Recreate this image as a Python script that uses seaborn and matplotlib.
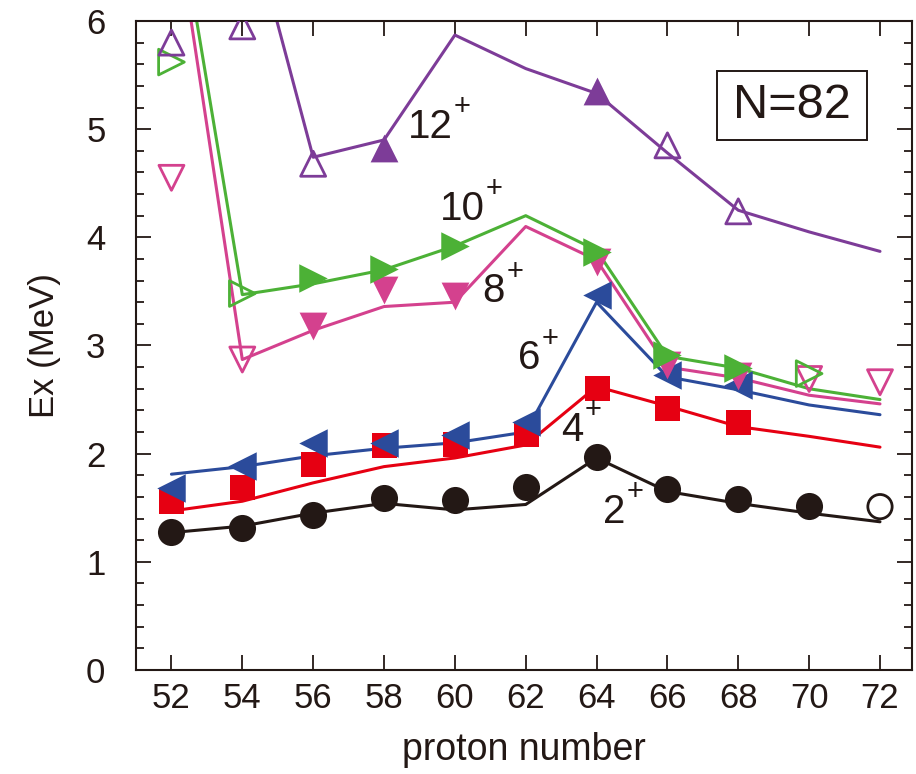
import matplotlib
matplotlib.use("Agg")
import matplotlib.pyplot as plt
from matplotlib.patches import Rectangle
import numpy as np
import pandas as pd
import seaborn as sns

nan = np.nan

# proton numbers (N = 82 isotones)
Z = [52, 54, 56, 58, 60, 62, 64, 66, 68, 70, 72]

# calculated levels (lines)
th_2 = [1.27, 1.33, 1.45, 1.54, 1.48, 1.53, 1.96, 1.65, 1.54, 1.45, 1.37]
th_4 = [1.47, 1.56, 1.73, 1.88, 1.96, 2.08, 2.62, 2.44, 2.25, 2.16, 2.06]
th_6 = [1.81, 1.88, 1.98, 2.05, 2.10, 2.20, 3.40, 2.71, 2.59, 2.45, 2.36]
th_8 = [7.2, 2.87, 3.14, 3.36, 3.40, 4.10, 3.79, 2.80, 2.70, 2.54, 2.46]
th_10 = [7.4, 3.47, 3.57, 3.70, 3.92, 4.20, 3.88, 2.90, 2.79, 2.60, 2.50]
th_12 = [nan, 7.2, 4.74, 4.90, 5.87, 5.56, 5.33, 4.78, 4.25, 4.05, 3.87]

# experimental levels (markers)
exp_2 = [1.28, 1.31, 1.43, 1.59, 1.57, 1.69, 1.97, 1.67, 1.58, 1.52, 1.51]
exp_4 = [1.56, 1.69, 1.90, 2.08, 2.09, 2.18, 2.61, 2.42, 2.29, nan, nan]
exp_6 = [1.68, 1.89, 2.10, 2.10, 2.17, 2.29, 3.47, 2.73, 2.63, nan, nan]
exp_8 = [4.55, 2.87, 3.18, 3.51, 3.46, nan, 3.77, 2.82, 2.72, 2.69, 2.66]
exp_10 = [5.62, 3.48, 3.62, 3.71, 3.92, nan, 3.86, 2.91, 2.79, 2.74, nan]
exp_12 = [5.80, 5.95, 4.68, 4.83, nan, nan, 5.35, 4.85, 4.24, nan, nan]

# Z values whose experimental point is drawn open (tentative)
open_2 = [72]
open_4 = []
open_6 = []
open_8 = [52, 54, 70, 72]
open_10 = [52, 54, 70]
open_12 = [52, 54, 56, 66, 68]

spins = ["2", "4", "6", "8", "10", "12"]
label_pos = [(64.5, 1.46), (63.3, 2.22), (62.1, 2.88), (61.1, 3.50), (60.2, 4.26), (59.3, 5.02)]

sns.set_theme(style="ticks")
plt.rcParams["font.family"] = ["Liberation Sans", "DejaVu Sans"]

ink = "#231815"
styles = [
    ("o", "#231815", 19.5),
    ("s", "#E60012", 18.0),
    ("<", "#2B4B9B", 20.5),
    ("v", "#D4418E", 20.0),
    (">", "#4CB136", 20.5),
    ("^", "#7D3C98", 20.0),
]
theory = [th_2, th_4, th_6, th_8, th_10, th_12]
expt = [exp_2, exp_4, exp_6, exp_8, exp_10, exp_12]
opens = [open_2, open_4, open_6, open_8, open_10, open_12]

fig = plt.figure(figsize=(9.16, 7.74), dpi=100)
ax = fig.add_axes([0.1485, 0.1344, 0.847, 0.8385])

for k, (th, ex, op, (mk, col, ms)) in enumerate(zip(theory, expt, opens, styles)):
    line = pd.DataFrame({"Z": Z, "E": th}).dropna()
    sns.lineplot(data=line, x="Z", y="E", color=col, lw=2.2, estimator=None,
                 sort=False, ax=ax, zorder=2 + k * 0.1)
    pts = pd.DataFrame({"Z": Z, "E": ex}).dropna()
    pts["open"] = pts["Z"].isin(op)
    filled = pts[~pts["open"]]
    hollow = pts[pts["open"]]
    if len(filled):
        sns.scatterplot(data=filled, x="Z", y="E", marker=mk, s=ms ** 2, color=col,
                        edgecolor=col, linewidth=0, ax=ax, zorder=3 + k * 0.1)
    if len(hollow):
        sns.scatterplot(data=hollow, x="Z", y="E", marker=mk, s=(ms - 2) ** 2,
                        facecolor="none", edgecolor=col, linewidth=2.0, ax=ax,
                        zorder=3 + k * 0.1)

for spin, (px, py) in zip(spins, label_pos):
    t = ax.text(px, py, spin, fontsize=29, color=ink, ha="center", va="center", zorder=5)
    ax.annotate("+", xy=(1, 1.02), xycoords=t, xytext=(1, 0), textcoords="offset points",
                fontsize=21, color=ink, ha="left", va="center", zorder=5)

ax.add_patch(Rectangle((0.749, 0.816), 0.193, 0.107, transform=ax.transAxes,
                       fill=False, edgecolor=ink, lw=1.4, zorder=6))
ax.text(0.8455, 0.869, "N=82", transform=ax.transAxes, fontsize=35, color=ink,
        ha="center", va="center", zorder=6)

ax.set_xlim(51.0, 72.9)
ax.set_ylim(0, 6)
ax.set_xticks(Z)
ax.set_yticks(range(7))
ax.set_yticks(np.arange(0, 6.01, 0.2), minor=True)
ax.tick_params(axis="both", which="both", direction="in", top=True, right=True,
               color=ink, width=1.3)
ax.tick_params(axis="both", which="major", length=11, labelsize=25, labelcolor=ink)
ax.tick_params(axis="y", which="minor", length=6)
ax.tick_params(axis="y", which="major", pad=22)
ax.tick_params(axis="x", which="major", pad=9)
for sp in ax.spines.values():
    sp.set_visible(True)
    sp.set_color(ink)
    sp.set_linewidth(1.5)

ax.set_xlabel("proton number", fontsize=27, color=ink, labelpad=12)
ax.set_ylabel("Ex (MeV)", fontsize=25, color=ink, labelpad=18)

fig.savefig("out.png", dpi=100)
